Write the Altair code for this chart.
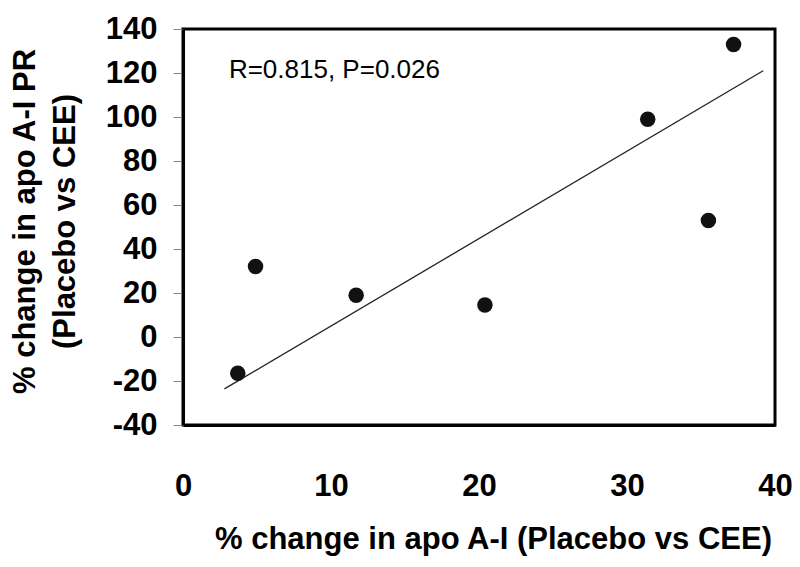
import altair as alt
import pandas as pd

# Data
apoA1_change = [3.7, 4.9, 11.7, 20.4, 31.4, 35.5, 37.2]
apoA1PR_change = [-16.5, 32, 19, 14.5, 99, 53, 133]

fit_x = [2.8, 39.2]
fit_y = [-23.6, 121.0]

annot_x = [3.1]
annot_y = [121.5]
annot_text = ["R=0.815, P=0.026"]

x_ticks = [0, 10, 20, 30, 40]
y_ticks = [-40, -20, 0, 20, 40, 60, 80, 100, 120, 140]

FONT = "Liberation Sans, Arial, sans-serif"

pts = pd.DataFrame({"x": apoA1_change, "y": apoA1PR_change})
fit = pd.DataFrame({"x": fit_x, "y": fit_y})
ann = pd.DataFrame({"x": annot_x, "y": annot_y, "t": annot_text})

xscale = alt.Scale(domain=[0, 40], nice=False, zero=False)
yscale = alt.Scale(domain=[-40, 140], nice=False, zero=False)

xaxis = alt.Axis(
    values=x_ticks, title="% change in apo A-I (Placebo vs CEE)",
    grid=False, domain=True, domainColor="#000", domainWidth=3,
    ticks=False, tickSize=0,
    labelExpr="'' + datum.value",
    labelFont=FONT, labelFontSize=31, labelFontWeight="bold", labelColor="#000",
    labelPadding=70, labelBaseline="alphabetic", labelFlush=False,
    titleFont=FONT, titleFontSize=31, titleFontWeight="bold", titleColor="#000",
    titleX=310, titleY=123, titleAlign="center", titleBaseline="alphabetic",
)
yaxis = alt.Axis(
    values=y_ticks, title=["% change in apo A-I PR", "(Placebo vs CEE)"],
    grid=False, domain=True, domainColor="#000", domainWidth=3,
    ticks=True, tickSize=10, tickColor="#888", tickWidth=1,
    labelExpr="'' + datum.value",
    labelFont=FONT, labelFontSize=31, labelFontWeight="bold", labelColor="#000",
    labelPadding=16,
    titleFont=FONT, titleFontSize=31, titleFontWeight="bold", titleColor="#000",
    titleAngle=-90, titleX=-173, titleY=192, titleAlign="center", titleBaseline="top",
    titleLineHeight=40,
)

base_x = alt.X("x:Q", scale=xscale, axis=xaxis)
base_y = alt.Y("y:Q", scale=yscale, axis=yaxis)

line = alt.Chart(fit).mark_line(color="#222", strokeWidth=1.3).encode(
    x=base_x, y=base_y
)
points = alt.Chart(pts).mark_circle(size=240, color="#111", opacity=1).encode(
    x="x:Q", y="y:Q"
)
text = alt.Chart(ann).mark_text(
    align="left", baseline="middle", font=FONT, fontSize=26, color="#000"
).encode(x="x:Q", y="y:Q", text="t:N")

chart = alt.layer(line, points, text).properties(
    width=592, height=396,
    background="white",
    view=alt.ViewBackground(stroke="#000", strokeWidth=3),
    autosize=alt.AutoSizeParams(type="none"),
    padding={"left": 175, "top": 21, "right": 17, "bottom": 134},
)

chart.save("out.html", embed_options={"renderer": "svg", "actions": False})
